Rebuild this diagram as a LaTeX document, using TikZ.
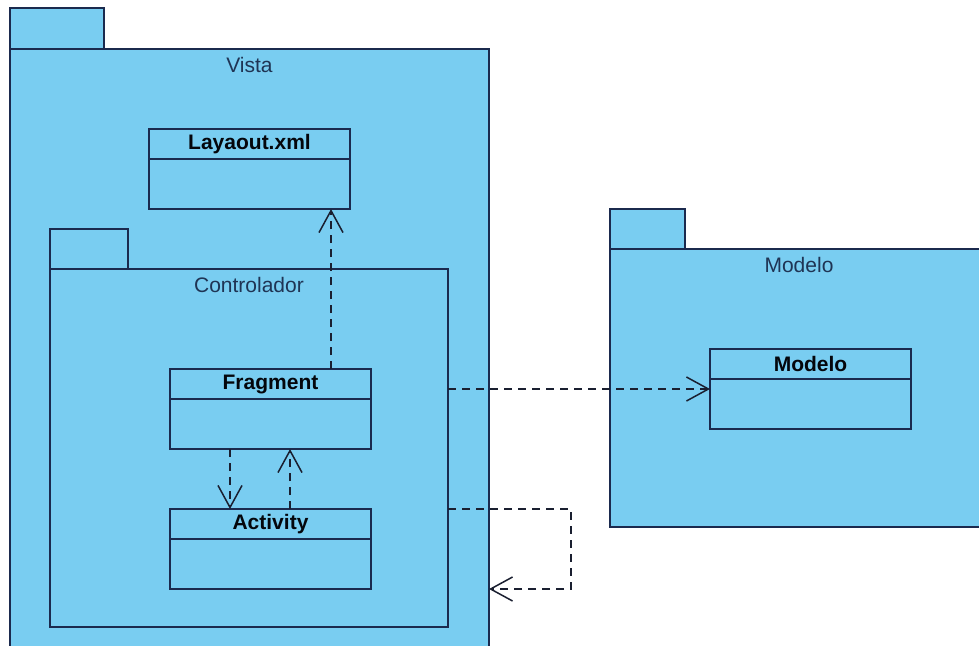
\documentclass[tikz,border=0pt]{standalone}
\usepackage{fontspec}
\setmainfont{Liberation Sans}
\usetikzlibrary{arrows.meta}
\definecolor{pkgfill}{HTML}{79CDF1}
\definecolor{ink}{HTML}{1B2A4E}
\definecolor{labelink}{HTML}{1F3454}
\definecolor{dashink}{HTML}{1A1F30}
\tikzset{
  pkgshape/.style={draw=ink, fill=pkgfill, line width=1.6pt, inner sep=0pt, outer sep=0pt, anchor=north west},
  classshape/.style={draw=ink, fill=pkgfill, line width=1.6pt, inner sep=0pt, outer sep=0pt,
    anchor=north west, minimum width=201pt, minimum height=80pt},
  pkgtitle/.style={text=labelink, font=\fontsize{21}{24}\selectfont, inner sep=0pt},
  classtitle/.style={text=black!85!ink, font=\fontsize{21}{24}\selectfont\bfseries, inner sep=0pt},
  divider/.style={draw=ink, line width=1.6pt},
  dep/.style={draw=dashink, line width=1.5pt, dash pattern=on 8pt off 6pt,
    -{Straight Barb[length=22pt, width=24pt, line width=1.5pt]}},
}
\begin{document}
\begin{tikzpicture}[x=1pt, y=-1pt]
  \clip (0,0) rectangle (979,645);
  \fill[white] (0,0) rectangle (979,645);

  % package Vista
  \node[pkgshape, minimum width=94pt, minimum height=41pt] (vistatab) at (10,8) {};
  \node[pkgshape, minimum width=479pt, minimum height=640pt] (vista) at (10,49) {};
  \node[pkgtitle] (vistalabel) at ([yshift=-16pt]vista.north) {Vista};

  % class Layaout.xml
  \node[classshape] (layout) at (149,129) {};
  \draw[divider] ([yshift=-30pt]layout.north west) -- ([yshift=-30pt]layout.north east);
  \node[classtitle] (layoutname) at ([yshift=-15pt]layout.north) {Layaout.xml};

  % package Controlador
  \node[pkgshape, minimum width=78pt, minimum height=40pt] (ctrltab) at (50,229) {};
  \node[pkgshape, minimum width=398pt, minimum height=358pt] (ctrl) at (50,269) {};
  \node[pkgtitle] (ctrllabel) at ([yshift=-16pt]ctrl.north) {Controlador};

  % class Fragment
  \node[classshape] (frag) at (170,369) {};
  \draw[divider] ([yshift=-30pt]frag.north west) -- ([yshift=-30pt]frag.north east);
  \node[classtitle] (fragname) at ([yshift=-15pt]frag.north) {Fragment};

  % class Activity
  \node[classshape] (act) at (170,509) {};
  \draw[divider] ([yshift=-30pt]act.north west) -- ([yshift=-30pt]act.north east);
  \node[classtitle] (actname) at ([yshift=-15pt]act.north) {Activity};

  % package Modelo
  \node[pkgshape, minimum width=75pt, minimum height=40pt] (modtab) at (610,209) {};
  \node[pkgshape, minimum width=378pt, minimum height=278pt] (mod) at (610,249) {};
  \node[pkgtitle] (modlabel) at ([yshift=-16pt]mod.north) {Modelo};

  % class Modelo
  \node[classshape] (modcls) at (710,349) {};
  \draw[divider] ([yshift=-30pt]modcls.north west) -- ([yshift=-30pt]modcls.north east);
  \node[classtitle] (modclsname) at ([yshift=-15pt]modcls.north) {Modelo};

  % dependency routing guides
  \coordinate (xup) at (331,0);
  \coordinate (xdown) at (230,0);
  \coordinate (xback) at (290,0);
  \coordinate (yside) at (0,389);
  \coordinate (loopa) at (571,509);
  \coordinate (loopb) at (571,589);

  % dependencies
  \draw[dep] (frag.north -| xup) -- (layout.south -| xup);
  \draw[dep] (frag.south -| xdown) -- (act.north -| xdown);
  \draw[dep] (act.north -| xback) -- (frag.south -| xback);
  \draw[dep] (ctrl.east |- yside) -- (modcls.west |- yside);
  \draw[dep] (ctrl.east |- loopa) -- (loopa) -- (loopb) -- (vista.east |- loopb);
\end{tikzpicture}
\end{document}
